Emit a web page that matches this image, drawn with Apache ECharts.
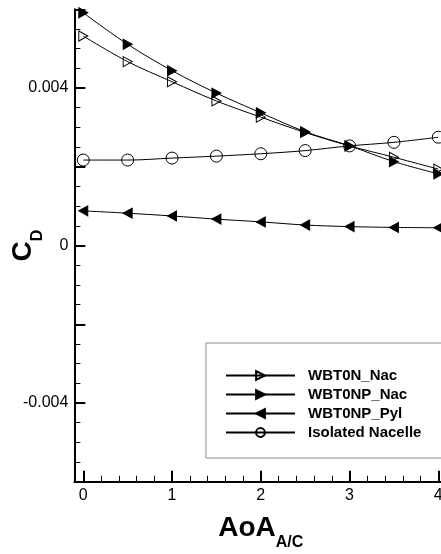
<!DOCTYPE html>
<html><head><meta charset="utf-8">
<script src="https://cdn.jsdelivr.net/npm/echarts@6/dist/echarts.min.js"></script>
<style>html,body{margin:0;padding:0;background:#fff}#c{width:441px;height:554px}</style>
</head><body><div id="c"></div>
<script>
const aoa = [0, 0.5, 1, 1.5, 2, 2.5, 3, 3.5, 4];
const wbt0nNac = [0.00532, 0.00467, 0.00416, 0.00367, 0.00326, 0.00287, 0.00253, 0.00224, 0.00194];
const wbt0npNac = [0.00591, 0.00511, 0.00444, 0.00387, 0.00337, 0.00289, 0.00253, 0.00213, 0.00182];
const wbt0npPyl = [0.00088, 0.00082, 0.00075, 0.00067, 0.00060, 0.00052, 0.00048, 0.00046, 0.00045];
const isoNacelle = [0.00217, 0.00217, 0.00222, 0.00227, 0.00233, 0.00241, 0.00253, 0.00262, 0.00275];
const seriesNames = ['WBT0N_Nac', 'WBT0NP_Nac', 'WBT0NP_Pyl', 'Isolated Nacelle'];
const xMajorTicks = [0, 1, 2, 3, 4];
const xMinorTicks = [0.2, 0.4, 0.6, 0.8, 1.2, 1.4, 1.6, 1.8, 2.2, 2.4, 2.6, 2.8, 3.2, 3.4, 3.6, 3.8];
const yMajorTicks = [-0.006, -0.004, -0.002, 0, 0.002, 0.004, 0.006];
const yLabelTicks = [-0.004, 0, 0.004];
const yMinorTicks = [-0.0055, -0.005, -0.0045, -0.0035, -0.003, -0.0025, -0.0015, -0.001, -0.0005,
  0.0005, 0.001, 0.0015, 0.0025, 0.003, 0.0035, 0.0045, 0.005, 0.0055];

const FONT = '"Liberation Sans", Arial, Helvetica, sans-serif';
const RIGHT_TRI = 'path://M0,0L10,5L0,10Z';
const LEFT_TRI = 'path://M10,0L0,5L10,10Z';

function pairs(ys) { return aoa.map((x, i) => [x, ys[i]]); }

const chart = echarts.init(document.getElementById('c'), null, {renderer: 'canvas'});
const axisLineStyle = {color: '#000', width: 2};

function mkSeries(name, ys, symbol, filled, size) {
  return {
    name: name, type: 'line', data: pairs(ys), smooth: 0.35,
    xAxisIndex: 0, yAxisIndex: 0,
    symbol: symbol, symbolSize: size, showAllSymbol: true,
    lineStyle: {color: '#000', width: 1},
    itemStyle: {color: filled ? '#000' : 'rgba(255,255,255,0)', borderColor: '#000', borderWidth: 1},
    emphasis: {disabled: true}
  };
}

chart.setOption({
  animation: false,
  backgroundColor: '#fff',
  grid: {left: 74.4, right: -6.2, top: 9.25, bottom: 72.25, containLabel: false, outerBoundsMode: 'none'},
  legend: {
    orient: 'vertical', left: 206, top: 343,
    padding: [25, 40, 18, 19],
    itemWidth: 69, itemHeight: 11, itemGap: 4,
    backgroundColor: '#fff', borderColor: '#8c8c8c', borderWidth: 1,
    selectedMode: false,
    textStyle: {fontSize: 15, fontWeight: 'bold', color: '#000', fontFamily: FONT, padding: [0, 0, 0, 8]},
    data: seriesNames
  },
  xAxis: [{
    type: 'value', min: -0.1, max: 4.1, position: 'bottom',
    axisLine: {onZero: false, lineStyle: axisLineStyle},
    axisTick: {inside: true, length: 11, lineStyle: {color: '#000', width: 2}, customValues: xMajorTicks},
    axisLabel: {customValues: xMajorTicks, fontSize: 16, color: '#000', margin: 6, fontFamily: FONT},
    splitLine: {show: false},
    name: '{m|AoA}{s|A/C}', nameLocation: 'middle', nameGap: 24.5, nameMoveOverlap: false,
    nameTextStyle: {color: '#000', fontFamily: FONT,
      rich: {m: {fontSize: 28, fontWeight: 'bold', fontFamily: FONT, color: '#000'},
             s: {fontSize: 16, fontWeight: 'bold', fontFamily: FONT, color: '#000', padding: [28, 0, 0, 0]}}}
  }, {
    type: 'value', min: -0.1, max: 4.1, position: 'bottom',
    axisLine: {show: false, onZero: false},
    axisTick: {inside: true, length: 6, lineStyle: {color: '#000', width: 1}, customValues: xMinorTicks},
    axisLabel: {show: false}, splitLine: {show: false}
  }],
  yAxis: [{
    type: 'value', min: -0.006, max: 0.006, position: 'left',
    axisLine: {onZero: false, lineStyle: axisLineStyle},
    axisTick: {inside: true, length: 11, lineStyle: {color: '#000', width: 2}, customValues: yMajorTicks},
    axisLabel: {customValues: yLabelTicks, fontSize: 16, color: '#000', margin: 6, fontFamily: FONT},
    splitLine: {show: false},
    name: '{m|C}{s|D}', nameLocation: 'middle', nameRotate: 90, nameGap: 29, nameMoveOverlap: false,
    nameTextStyle: {color: '#000', fontFamily: FONT,
      rich: {m: {fontSize: 28, fontWeight: 'bold', fontFamily: FONT, color: '#000'},
             s: {fontSize: 16, fontWeight: 'bold', fontFamily: FONT, color: '#000', padding: [28, 0, 0, 0]}}}
  }, {
    type: 'value', min: -0.006, max: 0.006, position: 'left',
    axisLine: {show: false, onZero: false},
    axisTick: {inside: true, length: 6, lineStyle: {color: '#000', width: 1}, customValues: yMinorTicks},
    axisLabel: {show: false}, splitLine: {show: false}
  }],
  series: [
    mkSeries(seriesNames[0], wbt0nNac, RIGHT_TRI, false, [9, 10]),
    mkSeries(seriesNames[1], wbt0npNac, RIGHT_TRI, true, [9, 10]),
    mkSeries(seriesNames[2], wbt0npPyl, LEFT_TRI, true, [9, 10]),
    mkSeries(seriesNames[3], isoNacelle, 'circle', false, 12)
  ]
});
</script>
</body></html>
